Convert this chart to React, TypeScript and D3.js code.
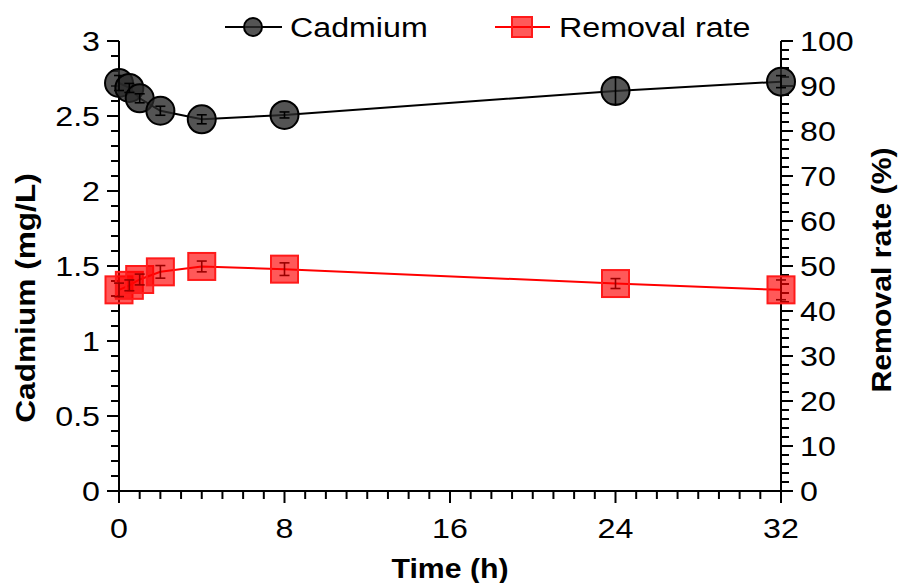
import React from "react";
import * as d3 from "d3";

const times = [0, 0.5, 1, 2, 4, 8, 24, 32];
const cadmium = [2.72, 2.687, 2.618, 2.535, 2.478, 2.507, 2.667, 2.729];
const cadmiumErr = [0.05, 0.03, 0.03, 0.03, 0.03, 0.02, 0.09, 0.04];
const removal = [44.7, 45.7, 47.0, 48.7, 49.9, 49.3, 46.1, 44.7];
const removalErr = [1.5, 1.2, 1.2, 1.4, 1.2, 1.4, 1.1, 2.2];

const xTicks = [0, 8, 16, 24, 32];
const yLeftTicks = [0, 0.5, 1, 1.5, 2, 2.5, 3];
const yRightTicks = [0, 10, 20, 30, 40, 50, 60, 70, 80, 90, 100];

const W = 898;
const H = 583;
const FONT = "'Liberation Sans', Arial, sans-serif";
const SX = 1.15;

export default function App() {
  const x = d3.scaleLinear().domain([0, 32]).range([119, 781]);
  const yL = d3.scaleLinear().domain([0, 3]).range([491, 41]);
  const yR = d3.scaleLinear().domain([0, 100]).range([491, 41]);

  const xMinor = d3.range(0, 33, 1);
  const yLMinor = d3.range(0, 30.01, 1).map((v) => v / 10);
  const yRMinor = d3.range(0, 101, 2);

  const cdPts = times.map((t, i) => ({ t, v: cadmium[i], e: cadmiumErr[i] }));
  const rrPts = times.map((t, i) => ({ t, v: removal[i], e: removalErr[i] }));

  const cdLine = d3
    .line<{ t: number; v: number }>()
    .x((d) => x(d.t))
    .y((d) => yL(d.v));
  const rrLine = d3
    .line<{ t: number; v: number }>()
    .x((d) => x(d.t))
    .y((d) => yR(d.v));

  const r = 14;
  const sq = 27;
  const cap = 5;

  const hText = (tx: number, ty: number, s: string, anchor: string, extra: any = {}) => (
    <text
      transform={`translate(${tx},${ty}) scale(${SX},1)`}
      textAnchor={anchor}
      fontSize={28}
      fontFamily={FONT}
      fill="#000"
      {...extra}
    >
      {s}
    </text>
  );

  return (
    <svg
      width={W}
      height={H}
      style={{ position: "absolute", left: 0, top: 0, background: "#fff" }}
    >
      <rect x={0} y={0} width={W} height={H} fill="#fff" />

      {/* x axis */}
      <line x1={x(0)} x2={x(32)} y1={491} y2={491} stroke="#000" strokeWidth={2} />
      {xMinor.map((t) => (
        <line key={"xm" + t} x1={x(t)} x2={x(t)} y1={491} y2={xTicks.includes(t) ? 503 : 499} stroke="#000" strokeWidth={2} />
      ))}
      {xTicks.map((t) => hText(x(t), 538, String(t), "middle", { key: "xl" + t }))}

      {/* left axis */}
      <line x1={119} x2={119} y1={yL(0) + 1} y2={yL(3)} stroke="#000" strokeWidth={2} />
      {yLMinor.map((v, i) => (
        <line key={"ylm" + i} x1={119} x2={i % 5 === 0 ? 107 : 111} y1={yL(v)} y2={yL(v)} stroke="#000" strokeWidth={2} />
      ))}
      {yLeftTicks.map((v) => hText(100, yL(v) + 10, String(v), "end", { key: "yll" + v }))}

      {/* right axis */}
      <line x1={781} x2={781} y1={yR(0) + 1} y2={yR(100)} stroke="#000" strokeWidth={2} />
      {yRMinor.map((v) => (
        <line key={"yrm" + v} x1={781} x2={v % 10 === 0 ? 793 : 789} y1={yR(v)} y2={yR(v)} stroke="#000" strokeWidth={2} />
      ))}
      {yRightTicks.map((v) => hText(800, yR(v) + 10, String(v), "start", { key: "yrl" + v }))}

      {/* axis titles */}
      <text
        transform={`translate(450,578) scale(1.08,1)`}
        textAnchor="middle"
        fontSize={28}
        fontWeight="bold"
        fontFamily={FONT}
      >
        Time (h)
      </text>
      <text
        transform={`translate(35,298) rotate(-90) scale(1.13,1)`}
        textAnchor="middle"
        fontSize={28}
        fontWeight="bold"
        fontFamily={FONT}
      >
        Cadmium (mg/L)
      </text>
      <text
        transform={`translate(891,270) rotate(-90) scale(1.08,1)`}
        textAnchor="middle"
        fontSize={28}
        fontWeight="bold"
        fontFamily={FONT}
      >
        Removal rate (%)
      </text>

      {/* removal rate series */}
      <path d={rrLine(rrPts) || ""} fill="none" stroke="#ff0000" strokeWidth={2} />
      {rrPts.map((d, i) => (
        <rect
          key={"sq" + i}
          x={x(d.t) - sq / 2}
          y={yR(d.v) - sq / 2}
          width={sq}
          height={sq}
          fill="rgba(255,0,0,0.65)"
          stroke="#ff1a1a"
          strokeWidth={2}
        />
      ))}
      {rrPts.map((d, i) => (
        <g key={"rre" + i} stroke="#9a0000" strokeWidth={1.6}>
          <line x1={x(d.t)} x2={x(d.t)} y1={yR(d.v - d.e)} y2={yR(d.v + d.e)} />
          <line x1={x(d.t) - cap} x2={x(d.t) + cap} y1={yR(d.v - d.e)} y2={yR(d.v - d.e)} />
          <line x1={x(d.t) - cap} x2={x(d.t) + cap} y1={yR(d.v + d.e)} y2={yR(d.v + d.e)} />
        </g>
      ))}

      {/* cadmium series */}
      <path d={cdLine(cdPts) || ""} fill="none" stroke="#000" strokeWidth={2} />
      {cdPts.map((d, i) => (
        <circle
          key={"c" + i}
          cx={x(d.t)}
          cy={yL(d.v)}
          r={r}
          fill="rgba(41,41,41,0.8)"
          stroke="#000"
          strokeWidth={2}
        />
      ))}
      {cdPts.map((d, i) => (
        <g key={"cde" + i} stroke="#000" strokeWidth={1.6}>
          <line x1={x(d.t)} x2={x(d.t)} y1={yL(d.v - d.e)} y2={yL(d.v + d.e)} />
          <line x1={x(d.t) - cap} x2={x(d.t) + cap} y1={yL(d.v - d.e)} y2={yL(d.v - d.e)} />
          <line x1={x(d.t) - cap} x2={x(d.t) + cap} y1={yL(d.v + d.e)} y2={yL(d.v + d.e)} />
        </g>
      ))}

      {/* legend */}
      <line x1={225} x2={282} y1={27} y2={27} stroke="#000" strokeWidth={2} />
      <circle cx={253} cy={27} r={9} fill="rgba(41,41,41,0.8)" stroke="#000" strokeWidth={2} />
      {hText(290, 37, "Cadmium", "start")}
      <line x1={495} x2={550} y1={27} y2={27} stroke="#ff0000" strokeWidth={2} />
      <rect x={512} y={17} width={20} height={20} fill="rgba(255,0,0,0.65)" stroke="#ff1a1a" strokeWidth={2} />
      {hText(559, 37, "Removal rate", "start")}
    </svg>
  );
}
